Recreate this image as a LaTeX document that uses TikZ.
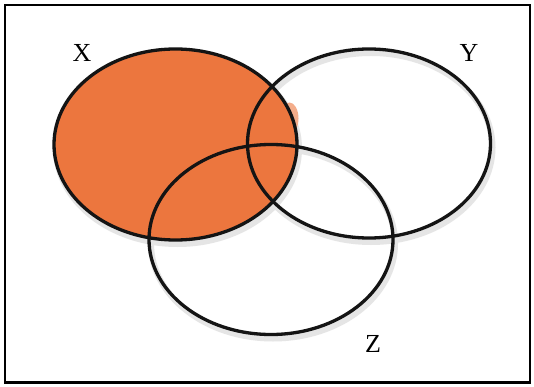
\documentclass[tikz,border=0pt]{standalone}
\usepackage{fontspec}
\setmainfont{Liberation Serif}
\usetikzlibrary{calc}
\definecolor{crayon}{RGB}{236,118,62}
\begin{document}
\begin{tikzpicture}[x=1pt,y=-1pt,
  setline/.style={line width=3.3pt,black!92},
  shade/.style={line width=6pt,black!10},
  lbl/.style={font=\fontsize{26}{26}\selectfont,inner sep=0pt}]
\useasboundingbox (0,0) rectangle (534,387);
\fill[white] (0,0) rectangle (534,387);
\coordinate (cx) at (175.5,144.5);
\coordinate (cy) at (369,143.5);
\coordinate (cz) at (271,239.5);
% soft shadows
\draw[shade] ($(cx)+(2,4)$) ellipse [x radius=121.5, y radius=95.5];
\draw[shade] ($(cy)+(2,4)$) ellipse [x radius=121.5, y radius=94.5];
\draw[shade] ($(cz)+(2,4)$) ellipse [x radius=122, y radius=95];
% shading of X
\fill[crayon!60!white] ($(cx)+(114,-26)$) ellipse [x radius=9, y radius=16];
\fill[crayon] (cx) ellipse [x radius=121.5, y radius=95.5];
% outlines
\draw[setline] (cx) ellipse [x radius=121.5, y radius=95.5];
\draw[setline] (cy) ellipse [x radius=121.5, y radius=94.5];
\draw[setline] (cz) ellipse [x radius=122, y radius=95];
% frame
\draw[line width=2.8pt] (5,5) rectangle (530,382.5);
\node[lbl] (X) at (82,53) {X};
\node[lbl] (Y) at (469,53) {Y};
\node[lbl] (Z) at (373,344) {Z};
\end{tikzpicture}
\end{document}
